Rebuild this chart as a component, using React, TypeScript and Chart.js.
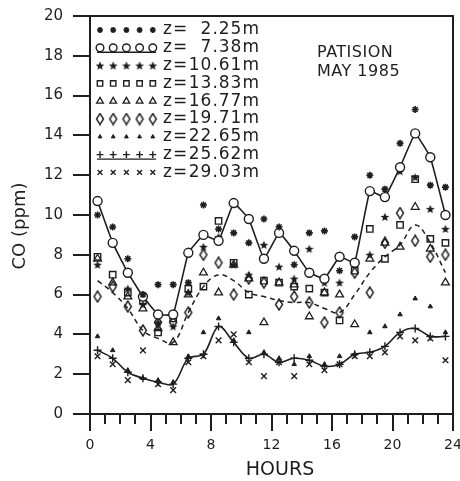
import React, { useEffect, useRef } from 'react';
import { Chart, registerables } from 'chart.js';
import { drawPoint } from 'chart.js/helpers';

Chart.register(...registerables);

// ---------- data ----------
const HOURS = [0.5, 1.5, 2.5, 3.5, 4.5, 5.5, 6.5, 7.5, 8.5, 9.5, 10.5, 11.5, 12.5, 13.5, 14.5, 15.5, 16.5, 17.5, 18.5, 19.5, 20.5, 21.5, 22.5, 23.5];
const X_MAJOR_TICKS = [0, 4, 8, 12, 16, 20, 24];
const X_MINOR_TICKS = [0, 1, 2, 3, 4, 5, 6, 7, 8, 9, 10, 11, 12, 13, 14, 15, 16, 17, 18, 19, 20, 21, 22, 23, 24];
const Y_TICKS = [0, 2, 4, 6, 8, 10, 12, 14, 16, 18, 20];

const LEVELS = ['2.25m', '7.38m', '10.61m', '13.83m', '16.77m', '19.71m', '22.65m', '25.62m', '29.03m'];

const Z_225 = [10.0, 9.4, 7.8, 6.0, 6.5, 6.5, 6.6, 10.5, 9.3, 9.1, 8.6, 9.8, 9.4, 7.5, 9.1, 9.2, 7.2, 8.9, 12.0, 11.3, 13.6, 15.3, 11.5, 11.4];
const Z_738 = [10.7, 8.6, 7.1, 5.9, 5.0, 5.0, 8.1, 9.0, 8.7, 10.6, 9.8, 7.8, 9.1, 8.2, 7.1, 6.8, 7.9, 7.6, 11.2, 10.9, 12.4, 14.1, 12.9, 10.0];
const Z_1061 = [7.5, 8.6, 6.3, 5.5, 4.6, 4.4, 6.1, 8.4, 8.9, 7.5, 7.0, 8.5, 7.4, 6.8, 8.3, 6.6, 6.6, 7.6, 8.0, 9.9, 12.2, 11.9, 10.3, 9.3];
const Z_1383 = [7.9, 7.0, 6.1, 5.7, 4.1, 4.8, 6.3, 6.4, 9.7, 7.6, 6.0, 6.7, 6.6, 6.4, 6.3, 6.1, 4.7, 7.2, 9.3, 7.8, 9.5, 11.8, 8.8, 8.6];
const Z_1677 = [7.8, 6.6, 5.9, 5.3, 4.3, 3.6, 6.0, 7.1, 6.1, 7.5, 6.8, 4.6, 6.6, 6.5, 4.9, 6.1, 6.0, 4.5, 7.8, 8.6, 8.4, 10.4, 8.3, 6.6];
const Z_1971 = [5.9, 6.4, 5.4, 4.2, 4.6, 4.6, 5.1, 8.0, 7.6, 6.0, 6.8, 6.6, 5.5, 5.9, 5.6, 4.6, 5.1, 7.1, 6.1, 8.6, 10.1, 8.7, 7.9, 8.0];
const Z_2265 = [3.9, 3.2, 2.2, 1.8, 1.7, 1.6, 2.9, 4.1, 4.8, 3.7, 4.1, 3.1, 2.8, 2.5, 2.9, 2.5, 2.9, 3.0, 4.1, 4.4, 5.0, 5.8, 5.4, 4.1];
const Z_2562 = [3.2, 2.8, 2.1, 1.8, 1.6, 1.5, 2.8, 3.0, 4.4, 3.6, 2.8, 3.0, 2.6, 2.8, 2.7, 2.4, 2.5, 3.0, 3.1, 3.4, 4.1, 4.3, 3.9, 3.9];
const Z_2903 = [2.9, 2.5, 1.7, 3.2, 1.5, 1.2, 2.6, 2.9, 3.7, 4.0, 2.6, 1.9, 2.6, 1.9, 2.5, 2.2, 2.5, 2.9, 2.9, 3.1, 3.9, 3.7, 3.8, 2.7];
const MEAN_CURVE = [6.7, 6.1, 5.3, 4.2, 3.8, 3.6, 5.1, 6.4, 7.0, 6.7, 6.1, 5.9, 5.7, 5.6, 5.6, 5.3, 5.1, 6.0, 7.1, 7.9, 8.5, 9.5, 8.6, 7.1];

const INK = '#1e1e1e';
const FONT = 'DejaVu Sans';

function pts(vals: number[]) {
  return HOURS.map((h, i) => ({ x: h, y: vals[i] }));
}

function makeStar(): HTMLCanvasElement {
  const c = document.createElement('canvas');
  c.width = 10; c.height = 10;
  const g = c.getContext('2d')!;
  g.fillStyle = INK;
  g.beginPath();
  for (let i = 0; i < 10; i++) {
    const r = i % 2 ? 2.0 : 4.6;
    const a = -Math.PI / 2 + (i * Math.PI) / 5;
    g.lineTo(5 + r * Math.cos(a), 5.4 + r * Math.sin(a));
  }
  g.closePath();
  g.fill();
  return c;
}

function makeDiamond(): HTMLCanvasElement {
  const c = document.createElement('canvas');
  c.width = 10; c.height = 13;
  const g = c.getContext('2d')!;
  g.strokeStyle = INK;
  g.lineWidth = 1.4;
  g.beginPath();
  g.moveTo(5, 1); g.lineTo(8.5, 6.5); g.lineTo(5, 12); g.lineTo(1.5, 6.5); g.closePath();
  g.stroke();
  return c;
}

export default function App() {
  const ref = useRef<HTMLCanvasElement | null>(null);

  useEffect(() => {
    if (!ref.current) return;
    const star = makeStar();
    const diamond = makeDiamond();

    const styles: any[] = [
      { pointStyle: 'star', radius: 3.5, borderWidth: 1.6, bg: INK },
      { pointStyle: 'circle', radius: 4.5, borderWidth: 1.4, bg: '#ffffff' },
      { pointStyle: star, radius: 4, borderWidth: 0, bg: INK },
      { pointStyle: 'rect', radius: 4.5, borderWidth: 1.4, bg: 'rgba(0,0,0,0)' },
      { pointStyle: 'triangle', radius: 4.5, borderWidth: 1.3, bg: 'rgba(0,0,0,0)' },
      { pointStyle: diamond, radius: 5, borderWidth: 0, bg: INK },
      { pointStyle: 'triangle', radius: 2.6, borderWidth: 1, bg: INK },
      { pointStyle: 'cross', radius: 4, borderWidth: 1.4, bg: INK },
      { pointStyle: 'crossRot', radius: 4, borderWidth: 1.4, bg: INK },
    ];
    const series = [Z_225, Z_738, Z_1061, Z_1383, Z_1677, Z_1971, Z_2265, Z_2562, Z_2903];
    const lineFor: Record<number, any> = {
      1: { showLine: true, tension: 0.08, borderWidth: 1.6 },
      7: { showLine: true, tension: 0.35, borderWidth: 1.6 },
    };

    const datasets: any[] = series.map((vals, i) => ({
      label: 'z=' + LEVELS[i],
      data: pts(vals),
      showLine: false,
      borderColor: INK,
      backgroundColor: styles[i].bg,
      pointStyle: styles[i].pointStyle,
      pointRadius: styles[i].radius,
      pointBorderWidth: styles[i].borderWidth,
      pointBorderColor: INK,
      pointBackgroundColor: styles[i].bg,
      pointHoverRadius: styles[i].radius,
      ...(lineFor[i] || {}),
    }));
    datasets.push({
      label: 'mean',
      data: pts(MEAN_CURVE),
      showLine: true,
      borderColor: INK,
      borderWidth: 1.5,
      borderDash: [5, 4],
      tension: 0.4,
      pointRadius: 0,
      pointHoverRadius: 0,
    });

    const decor = {
      id: 'decor',
      afterDraw(chart: any) {
        const { ctx, chartArea: ca, scales } = chart;
        const xs = scales.x;
        const ys = scales.y;
        ctx.save();
        ctx.strokeStyle = INK;
        ctx.lineWidth = 2;
        ctx.strokeRect(ca.left, ca.top, ca.right - ca.left, ca.bottom - ca.top);
        // y ticks
        ctx.beginPath();
        Y_TICKS.forEach((v) => {
          const py = Math.round(ys.getPixelForValue(v));
          ctx.moveTo(ca.left - 17, py);
          ctx.lineTo(ca.left, py);
        });
        ctx.stroke();
        // x ticks
        ctx.beginPath();
        X_MINOR_TICKS.forEach((h) => {
          const px = Math.round(xs.getPixelForValue(h));
          const len = X_MAJOR_TICKS.includes(h) ? 17 : 10;
          ctx.moveTo(px, ca.bottom);
          ctx.lineTo(px, ca.bottom + len);
        });
        ctx.stroke();

        // axis titles
        ctx.fillStyle = INK;
        ctx.textAlign = 'center';
        ctx.textBaseline = 'middle';
        ctx.font = `19px "${FONT}"`;
        ctx.fillText('HOURS', 280, 470);
        ctx.save();
        ctx.translate(20, 226);
        ctx.rotate(-Math.PI / 2);
        ctx.font = `18px "${FONT}"`;
        ctx.fillText('CO (ppm)', 0, 0);
        ctx.restore();

        // annotation
        ctx.textAlign = 'left';
        ctx.font = `16px "${FONT}"`;
        (ctx as any).letterSpacing = '0.5px';
        ctx.fillText('PATISION', 317, 53);
        ctx.fillText('MAY 1985', 317, 72);

        // legend
        ctx.font = `17px "${FONT}"`;
        (ctx as any).letterSpacing = '1px';
        LEVELS.forEach((lv, i) => {
          const y = 30 + 17.8 * i;
          const st = styles[i];
          for (let k = 0; k < 5; k++) {
            const x = 100 + 13.2 * k;
            ctx.fillStyle = st.bg;
            ctx.strokeStyle = INK;
            ctx.lineWidth = st.borderWidth;
            drawPoint(ctx, { pointStyle: st.pointStyle, radius: st.radius * 0.85, borderWidth: st.borderWidth, rotation: 0 } as any, x, y);
          }
          if (lineFor[i]) {
            ctx.lineWidth = 1.4;
            ctx.beginPath();
            ctx.moveTo(97, y + 4.5);
            ctx.lineTo(156, y + 4.5);
            ctx.stroke();
          }
          ctx.fillStyle = INK;
          ctx.textAlign = 'left';
          ctx.fillText('z=', 163, y);
          ctx.textAlign = 'right';
          ctx.fillText(lv, 260, y);
        });
        ctx.restore();
      },
    };

    const chart = new Chart(ref.current, {
      type: 'line',
      data: { datasets },
      options: {
        responsive: false,
        animation: false,
        events: [],
        layout: { padding: { top: 16, right: 7, left: 0, bottom: 0 } },
        plugins: { legend: { display: false }, tooltip: { enabled: false } },
        scales: {
          x: {
            type: 'linear',
            min: 0,
            max: 24,
            grid: { display: false, drawTicks: false },
            border: { display: false },
            afterBuildTicks: (s: any) => { s.ticks = X_MAJOR_TICKS.map((v) => ({ value: v })); },
            afterFit: (s: any) => { s.height = 67; s.paddingLeft = 0; s.paddingRight = 0; },
            ticks: {
              autoSkip: false,
              maxRotation: 0,
              padding: 23,
              color: INK,
              font: { family: FONT, size: 14 },
            },
          },
          y: {
            type: 'linear',
            min: 0,
            max: 20,
            grid: { display: false, drawTicks: false },
            border: { display: false },
            afterBuildTicks: (s: any) => { s.ticks = Y_TICKS.map((v) => ({ value: v })); },
            afterFit: (s: any) => { s.width = 90; s.paddingTop = 0; s.paddingBottom = 0; },
            ticks: {
              autoSkip: false,
              padding: 27,
              color: INK,
              font: { family: FONT, size: 15 },
            },
          },
        },
      },
      plugins: [decor],
    } as any);

    return () => chart.destroy();
  }, []);

  return (
    <div style={{ position: 'absolute', left: 0, top: 0, width: 460, height: 481, background: '#fff' }}>
      <canvas ref={ref} width={460} height={481} style={{ display: 'block' }} />
    </div>
  );
}
